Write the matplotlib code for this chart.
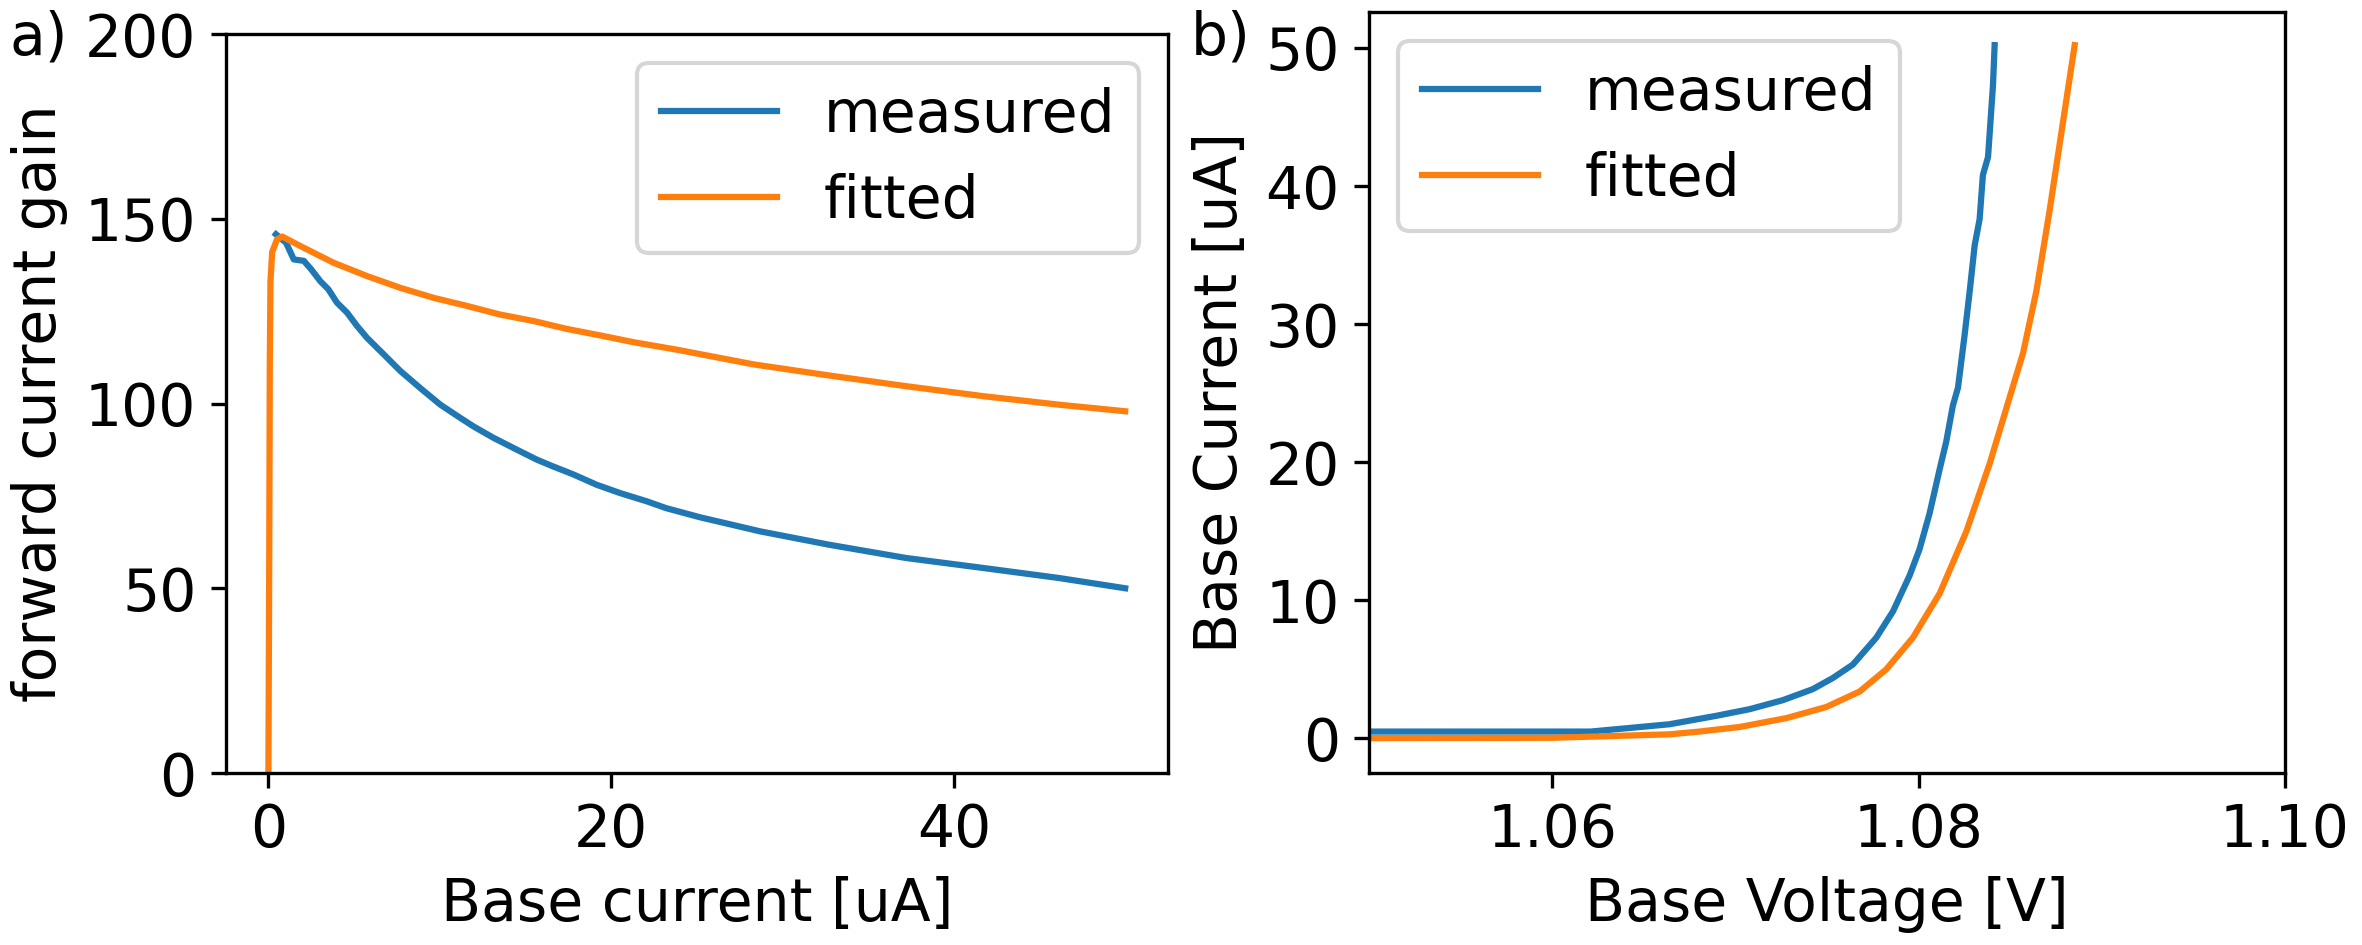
import numpy as np
import matplotlib
matplotlib.use("Agg")
import matplotlib.pyplot as plt
from matplotlib import rcParams

rcParams['font.size'] = 14

# a) forward current gain vs base current
ib_meas = [0.44, 1.03, 1.48, 2.07, 2.5, 3.03, 3.5, 4.0, 4.59, 5.17, 5.75, 6.73, 7.7, 8.96,
           10.03, 11.2, 11.97, 13.14, 14.5, 15.67, 16.6, 17.8, 19.16, 20.5, 22.1, 23.2,
           25.2, 28.7, 32.7, 37.2, 41.7, 46.1, 50.0]
gain_meas = [145.8, 143.5, 139.0, 138.6, 136.3, 133.1, 130.9, 127.3, 124.6, 121.0, 117.8,
             113.3, 108.8, 103.8, 99.7, 96.1, 93.8, 90.7, 87.5, 84.8, 83.0, 80.8, 78.0,
             75.8, 73.5, 71.7, 69.2, 65.4, 61.8, 58.2, 55.5, 52.8, 50.0]

ib_fit = [0.0, 0.05, 0.08, 0.12, 0.22, 0.5, 0.8, 1.87, 3.8, 5.75, 7.7, 9.64, 11.6, 13.5,
          15.5, 17.4, 19.4, 21.3, 23.8, 28.3, 32.7, 37.2, 41.7, 46.1, 50.0]
gain_fit = [0.0, 60.0, 110.0, 133.0, 141.0, 144.4, 145.2, 142.6, 138.1, 134.5, 131.3,
            128.6, 126.4, 124.1, 122.3, 120.2, 118.4, 116.6, 114.6, 110.6, 107.6, 104.7,
            102.0, 99.7, 97.9]

# b) base current vs base voltage
vb_meas = [1.04, 1.0621, 1.0664, 1.06895, 1.07077, 1.07258, 1.07422, 1.07532, 1.07641,
           1.07769, 1.0786, 1.07951, 1.08005, 1.0806, 1.08115, 1.08151, 1.08187, 1.08215,
           1.08251, 1.08279, 1.08306, 1.08333, 1.08351, 1.08379, 1.08406, 1.08415]
ibv_meas = [0.5, 0.5, 1.03, 1.64, 2.12, 2.77, 3.57, 4.38, 5.35, 7.3, 9.2, 11.8, 13.7,
            16.3, 19.5, 21.5, 24.1, 25.4, 29.2, 32.4, 35.7, 37.6, 40.8, 42.1, 47.3, 50.2]

vb_fit = [1.04, 1.06, 1.0664, 1.06803, 1.07022, 1.07277, 1.07496, 1.07678, 1.07823,
          1.07969, 1.08115, 1.08261, 1.08388, 1.08497, 1.0857, 1.08643, 1.08716, 1.08789,
          1.08852]
ibv_fit = [0.0, 0.05, 0.3, 0.5, 0.83, 1.47, 2.28, 3.4, 5.0, 7.3, 10.5, 15.0, 19.9, 24.7,
           27.9, 32.4, 38.3, 44.7, 50.2]

fig = plt.figure(figsize=(2362 / 300, 945 / 300), dpi=300)
ax1 = fig.add_axes([0.0955, 0.182, 0.399, 0.782])
ax2 = fig.add_axes([0.5796, 0.182, 0.3878, 0.8053])

ax1.plot(ib_meas, gain_meas, label='measured')
ax1.plot(ib_fit, gain_fit, label='fitted')
ax1.set_xlim(-2.5, 52.5)
ax1.set_ylim(0, 200)
ax1.set_xticks([0, 20, 40])
ax1.set_yticks([0, 50, 100, 150, 200])
ax1.set_xlabel('Base current [uA]')
ax1.set_ylabel('forward current gain')
ax1.legend(loc='upper right')

ax2.plot(vb_meas, ibv_meas, label='measured')
ax2.plot(vb_fit, ibv_fit, label='fitted')
ax2.set_xlim(1.05, 1.10)
ax2.set_ylim(-2.5, 52.6)
ax2.set_xticks([1.06, 1.08, 1.10])
ax2.set_yticks([0, 10, 20, 30, 40, 50])
ax2.set_xlabel('Base Voltage [V]')
ax2.set_ylabel('Base Current [uA]')
ax2.legend(loc='upper left')

fig.text(0.0042, 0.942, 'a)', va='baseline', ha='left')
fig.text(0.504, 0.942, 'b)', va='baseline', ha='left')

fig.savefig('out.png', dpi=300)
